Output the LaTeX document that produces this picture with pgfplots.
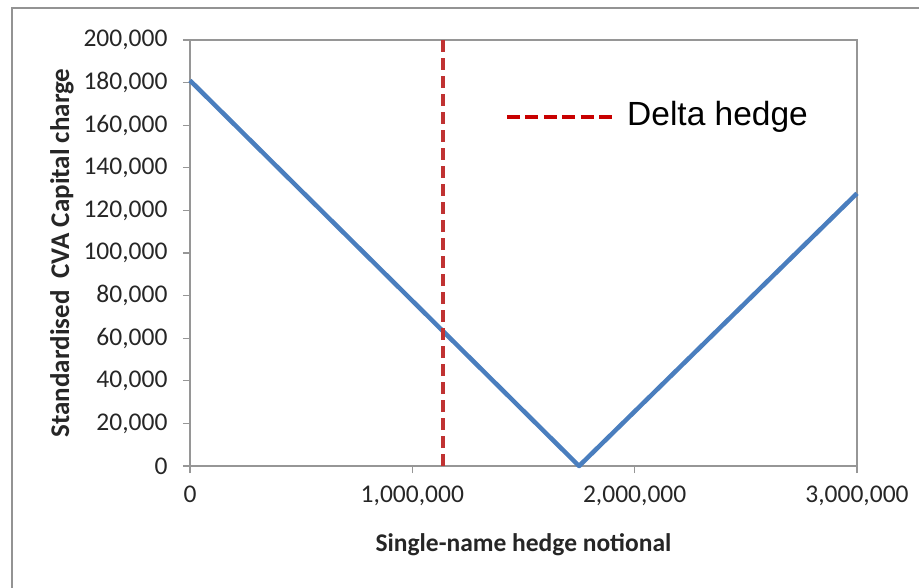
\documentclass[border=0pt]{standalone}
\usepackage{fontspec}
\setmainfont{Carlito}
\newfontfamily\arialfont{Liberation Sans}
\usepackage{pgfplots}
\pgfplotsset{compat=1.18}
\definecolor{xlblue}{RGB}{74,126,190}
\definecolor{xlred}{RGB}{192,50,50}
\definecolor{legred}{RGB}{200,0,0}
\definecolor{xlgray}{RGB}{150,150,150}

\begin{document}
\begin{tikzpicture}[x=1pt,y=1pt]
\path[use as bounding box] (-190,-121) rectangle (729,466);
% outer chart frame (cut off at right and bottom)
\draw[line width=2.5pt, color=gray!85] (-178,-130) -- (-178,458) -- (740,458);
\begin{axis}[
    at={(0,0)}, anchor=south west,
    width=667pt, height=426pt, scale only axis,
    xmin=0, xmax=3000000,
    ymin=0, ymax=200000,
    xtick={0,1000000,2000000,3000000},
    ytick={0,20000,...,200000},
    scaled ticks=false,
    /pgf/number format/.cd, fixed, 1000 sep={,}, assume math mode=true, /pgfplots/.cd,
    axis line style={xlgray, line width=1.3pt},
    tick style={xlgray, line width=1.3pt},
    tick align=outside, major tick length=7pt,
    xtick pos=bottom, ytick pos=left,
    tick label style={font=\fontsize{25.5}{30}\selectfont, text=black!85},
    xticklabel style={yshift=-9pt},
    yticklabel style={xshift=-12pt},
    label style={font=\bfseries\fontsize{25.5}{30}\selectfont, text=black!85},
    xlabel={Single-name hedge notional},
    ylabel={Standardised\ \ CVA Capital charge},
    xlabel style={at={(axis description cs:0.5,0)}, anchor=center, yshift=-79pt},
    ylabel style={at={([xshift=-128pt]axis description cs:0,0.5)}, anchor=center,
                  font=\bfseries\fontsize{27}{30}\selectfont},
    clip=false,
]
\addplot[xlblue, line width=4.5pt, line join=round] coordinates {
    (0,181000) (1750000,0) (3000000,128000)
};
\addplot[xlred, line width=4pt, dash pattern=on 12pt off 6pt] coordinates {
    (1138000,0) (1138000,200000)
};
\end{axis}
% legend
\draw[legred, line width=4pt, dash pattern=on 13pt off 5.4pt] (317,349) -- (422,349);
\node[anchor=west, inner sep=0pt, font=\arialfont\fontsize{33.5}{38}\selectfont] at (437,349) {Delta hedge};
\end{tikzpicture}
\end{document}
